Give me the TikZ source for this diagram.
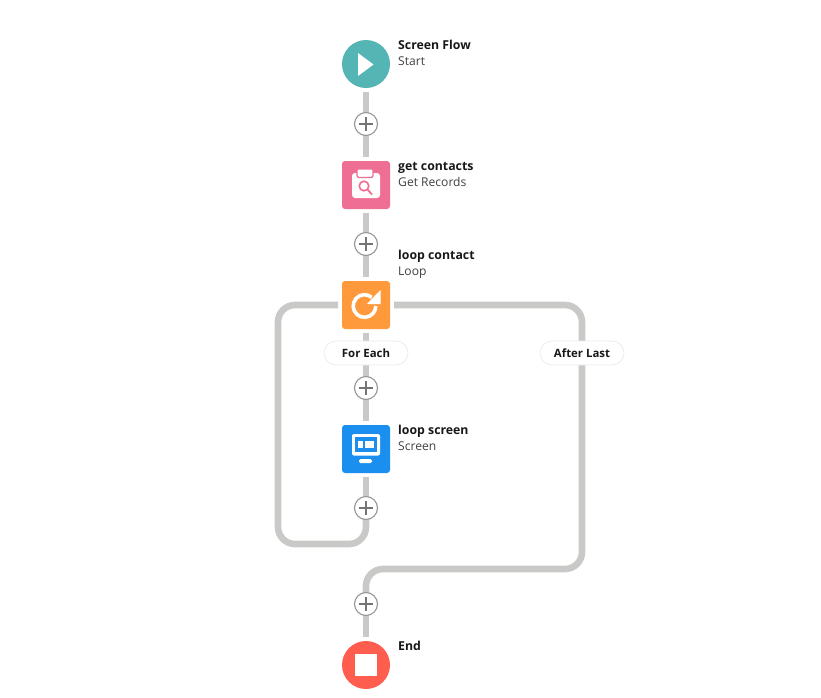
\documentclass[tikz,border=0pt]{standalone}
\usepackage{fontspec}
\setmainfont{Open Sans}
\usetikzlibrary{backgrounds}
\definecolor{conn}{HTML}{C9C9C7}
\definecolor{teal}{HTML}{54B5B4}
\definecolor{pinkb}{HTML}{EF6E93}
\definecolor{orangeb}{HTML}{FF9A3C}
\definecolor{blueb}{HTML}{1B8FF0}
\definecolor{redb}{HTML}{FF5D4E}
\definecolor{plusc}{HTML}{969696}
\definecolor{txt}{HTML}{181818}
\tikzset{
  x=1pt,y=-1pt,
  roundel/.style={circle,minimum size=48pt,inner sep=0pt,outer sep=4pt,fill=#1},
  tile/.style={rectangle,rounded corners=3pt,minimum size=48pt,inner sep=0pt,outer sep=4pt,fill=#1},
  adder/.style={circle,draw=plusc,line width=1.1pt,fill=white,minimum size=23pt,inner sep=0pt,outer sep=0pt},
  pill/.style={rectangle,rounded corners=12pt,draw=black!8,line width=.7pt,fill=white,minimum width=84pt,minimum height=24pt,inner sep=0pt,font=\fontsize{11.4}{13}\selectfont\bfseries,text=txt},
  conline/.style={draw=conn,line width=6.6pt,rounded corners=17pt},
  title/.style={anchor=base west,inner sep=0pt,font=\fontsize{12.3}{14}\selectfont\bfseries,text=txt},
  kind/.style={anchor=base west,inner sep=0pt,font=\fontsize{12.1}{14}\selectfont,text=black!75},
  plusbar/.style={draw=black!55,line width=1.3pt},
}
\newcommand{\plusmark}[1]{\draw[plusbar] ([xshift=-7pt]#1.center) -- ([xshift=7pt]#1.center) ([yshift=-7pt]#1.center) -- ([yshift=7pt]#1.center);}
\begin{document}
\begin{tikzpicture}
\useasboundingbox (0,0) rectangle (821,697);
\node[roundel=teal] (start) at (366,64) {};
\node[tile=pinkb] (get) at (366,185) {};
\node[tile=orangeb] (loop) at (366,305) {};
\node[tile=blueb] (screen) at (366,449) {};
\node[roundel=redb] (end) at (366,665) {};
\node[adder] (p1) at (366,124) {};
\node[adder] (p2) at (366,244) {};
\node[adder] (p3) at (366,388) {};
\node[adder] (p4) at (366,508) {};
\node[adder] (p5) at (366,604) {};
\coordinate (lb) at (278,544);
\coordinate (rb) at (582,569);
\begin{scope}[on background layer]
\draw[conline] (start.south) -- (p1.center) -- (get.north);
\draw[conline] (get.south) -- (p2.center) -- (loop.north);
\draw[conline] (loop.south) -- (p3.center) -- (screen.north);
\draw[conline] (screen.south) -- (p4.center);
\draw[conline] (loop.west) -| (lb) -| (p4.center);
\draw[conline] (loop.east) -| (rb) -| (p5.center);
\draw[conline] (p5.center) -- (end.north);
\end{scope}
\node[pill] (foreach) at (366,353) {For Each};
\node[pill] (afterlast) at (582,353) {After Last};
\plusmark{p1}\plusmark{p2}\plusmark{p3}\plusmark{p4}\plusmark{p5}
% labels
\node[title] (t1) at (398,49.5) {Screen Flow};
\node[kind] (k1) at (398,65.5) {Start};
\node[title] (t2) at (398,170) {get contacts};
\node[kind] (k2) at (398,186) {Get Records};
\node[title] (t3) at (398,259) {loop contact};
\node[kind] (k3) at (398,275) {Loop};
\node[title] (t4) at (398,434) {loop screen};
\node[kind] (k4) at (398,450) {Screen};
\node[title] (t5) at (398,650) {End};
% icons
\fill[white] (358,53) -- (373.5,64.5) -- (358,76) -- cycle;
\fill[white,rounded corners=3pt] (352,173) rectangle (380,198);
\fill[white,rounded corners=2pt] (357,169.5) rectangle (373,177.5);
\draw[pinkb,line width=1.3pt,rounded corners=2pt] (357,170) -- (357,177.5) -- (373,177.5) -- (373,170);
\draw[pinkb,line width=1.6pt] (364,186) circle (4.8pt);
\draw[pinkb,line width=1.8pt] (367.5,189.5) -- (372,194.5);
% loop icon: ring with arrowhead
\coordinate (ringc) at (364.5,306);
\draw[white,line width=3.6pt] ([shift={(50:11.3pt)}]ringc) arc[start angle=50,end angle=360,radius=11.3pt];
\fill[white] (380.5,290) -- (380.5,304) -- (367,304) -- cycle;
\fill[white,rounded corners=2pt] (352,434) rectangle (380,455.5);
\fill[blueb] (355,437) rectangle (377,452);
\fill[white] (358,441) rectangle (362.5,448);
\fill[white] (365,441) rectangle (374,448);
\fill[white,rounded corners=1.5pt] (359,459) rectangle (372,463);
\fill[white] (354.5,653.5) rectangle (377,676);
\end{tikzpicture}
\end{document}
